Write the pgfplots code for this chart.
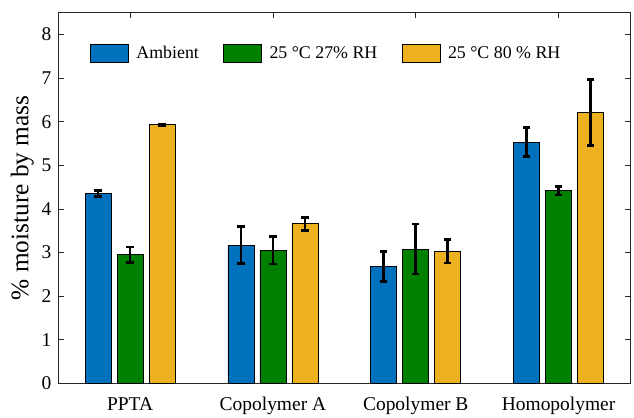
\documentclass[border=0pt]{standalone}
\usepackage{fontspec}
\setmainfont{Liberation Serif}
\usepackage{pgfplots}
\pgfplotsset{compat=1.18}
\definecolor{mblue}{rgb}{0,0.447,0.741}
\definecolor{mgreen}{rgb}{0,0.5,0}
\definecolor{myellow}{rgb}{0.929,0.694,0.125}
\definecolor{axgray}{rgb}{0.15,0.15,0.15}
\begin{document}
\begin{tikzpicture}
\begin{axis}[name=ax, width=428.5pt, height=278pt, scale only axis,
 xmin=0.5, xmax=4.5, ymin=0, ymax=8.5,
 xtick={1,2,3,4}, xticklabels={PPTA, Copolymer A, Copolymer B, Homopolymer},
 ytick={0,1,...,8},
 tick align=inside, major tick length=4pt,
 axis line style={axgray, line width=0.5pt}, tick style={axgray, line width=0.5pt},
 ticklabel style={font=\fontsize{14.6}{16}\selectfont, color=black},
 yticklabel style={xshift=-2pt},
 xticklabel style={yshift=-7pt},
 /pgf/number format/assume math mode=true,
 ylabel={\% moisture by mass},
 ylabel style={font=\fontsize{19}{21}\selectfont, at={(axis description cs:-0.0634,0.5)}, anchor=center},
 legend columns=3,
 legend style={draw=none, fill=none, at={(axis description cs:0.0477,0.891)}, anchor=west,
   font=\fontsize{13.4}{15}\selectfont,
   /tikz/every even column/.append style={column sep=16.3pt},
   /tikz/every odd column/.append style={column sep=3.75pt}},
 legend image code/.code={\draw[#1] (0pt,-6.75pt) rectangle (28.5pt,6.75pt);},
 every axis plot/.append style={ybar, bar width=0.182, bar shift=0pt, draw=black, line width=0.4pt,
   error bars/y dir=both, error bars/y explicit,
   error bars/error bar style={line width=2pt, black},
   error bars/error mark options={rotate=90, mark size=2.7pt, line width=2pt, black}},
]
\addplot[fill=mblue] coordinates {
 (0.776,4.35) +- (0,0.07)
 (1.776,3.17) +- (0,0.42)
 (2.776,2.68) +- (0,0.35)
 (3.776,5.53) +- (0,0.33)
};
\addlegendentry{Ambient}
\addplot[fill=mgreen] coordinates {
 (1,2.95) +- (0,0.18)
 (2,3.05) +- (0,0.31)
 (3,3.08) +- (0,0.57)
 (4,4.42) +- (0,0.10)
};
\addlegendentry{25 °C 27\% RH}
\addplot[fill=myellow] coordinates {
 (1.224,5.93) +- (0,0.02)
 (2.224,3.66) +- (0,0.15)
 (3.224,3.03) +- (0,0.27)
 (4.224,6.21) +- (0,0.76)
};
\addlegendentry{25 °C 80 \% RH}
\end{axis}
\pgfresetboundingbox
\path[use as bounding box] ([xshift=-44pt,yshift=-25.3pt]ax.south west) rectangle ([xshift=3pt,yshift=9.5pt]ax.north east);
\end{tikzpicture}
\end{document}
